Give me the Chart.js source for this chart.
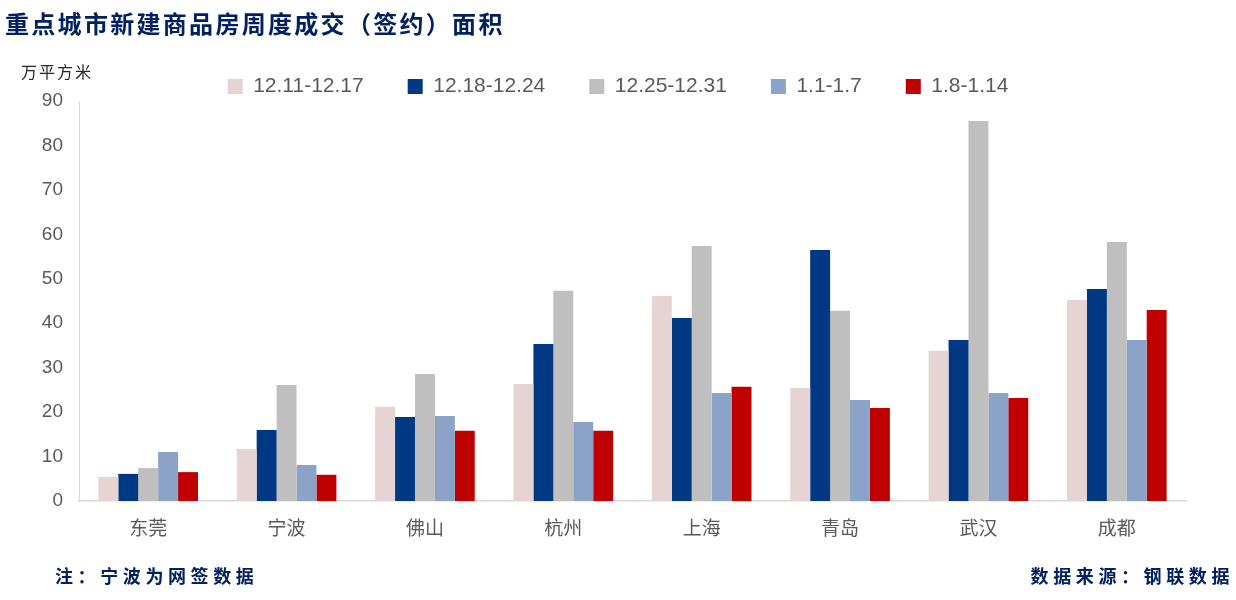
<!DOCTYPE html>
<html>
<head>
<meta charset="utf-8">
<script src="https://cdn.jsdelivr.net/npm/chart.js@4"></script>
<style>
  html, body { margin: 0; padding: 0; background: #fff; }
  #wrap { position: relative; width: 1236px; height: 600px; overflow: hidden; }
  #chart { position: absolute; left: 0; top: 0; }
  .note {
    position: absolute;
    font-family: "Noto Sans CJK SC", sans-serif;
    font-weight: bold;
    color: #002060;
    line-height: 1;
    white-space: nowrap;
  }
  #title { left: 5px; top: 11px; font-size: 24px; letter-spacing: 2.3px; }
  #footLeft { left: 55px; top: 566px; font-size: 18px; letter-spacing: 4.6px; }
  #footRight { right: 2px; top: 566px; font-size: 18px; letter-spacing: 4.6px; }
</style>
</head>
<body>
<div id="wrap">
  <canvas id="chart" width="1236" height="600"></canvas>
  <div id="title" class="note">重点城市新建商品房周度成交（签约）面积</div>
  <div id="footLeft" class="note">注：宁波为网签数据</div>
  <div id="footRight" class="note">数据来源：钢联数据</div>
</div>
<script>
const cities = ["东莞", "宁波", "佛山", "杭州", "上海", "青岛", "武汉", "成都"];
const weekLabels = ["12.11-12.17", "12.18-12.24", "12.25-12.31", "1.1-1.7", "1.8-1.14"];
const week1211 = [5.4, 11.7, 21.2, 26.3, 46.1, 25.4, 33.8, 45.2];
const week1218 = [6.1, 16.0, 18.9, 35.3, 41.2, 56.5, 36.2, 47.7];
const week1225 = [7.4, 26.1, 28.6, 47.3, 57.4, 42.8, 85.5, 58.3];
const week0101 = [11.0, 8.1, 19.1, 17.8, 24.3, 22.7, 24.3, 36.2];
const week0108 = [6.5, 5.9, 15.8, 15.8, 25.7, 20.9, 23.2, 43.0];
const yTicks = [0, 10, 20, 30, 40, 50, 60, 70, 80, 90];
const unitLabel = "万平方米";

const colors = ["#E6D3D3", "#003884", "#BFBFBF", "#8AA3C6", "#C00000"];
const seriesValues = [week1211, week1218, week1225, week0101, week0108];

// unit text above the y axis
const unitPlugin = {
  id: "unitLabel",
  afterDraw(chart) {
    const ctx = chart.ctx;
    ctx.save();
    ctx.font = '16px "Noto Sans CJK SC"';
    ctx.letterSpacing = "2px";
    ctx.fillStyle = "#262626";
    ctx.textAlign = "left";
    ctx.textBaseline = "middle";
    ctx.fillText(unitLabel, 21, 72);
    ctx.restore();
  }
};

const ctx = document.getElementById("chart").getContext("2d");
new Chart(ctx, {
  type: "bar",
  data: {
    labels: cities,
    datasets: weekLabels.map((w, i) => ({
      label: w,
      data: seriesValues[i],
      backgroundColor: colors[i],
      borderWidth: 0,
      categoryPercentage: 0.72,
      barPercentage: 1.0
    }))
  },
  options: {
    responsive: false,
    animation: false,
    layout: { padding: { top: 32, left: 0, right: 0, bottom: 59 } },
    plugins: {
      tooltip: { enabled: false },
      legend: {
        position: "top",
        maxHeight: 69,
        labels: {
          boxWidth: 15,
          boxHeight: 15,
          padding: 44,
          color: "#595959",
          font: { family: "Liberation Sans", size: 21 }
        }
      }
    },
    scales: {
      x: {
        grid: { display: false, drawTicks: false },
        border: { display: true, color: "#D9D9D9", width: 1.5 },
        ticks: {
          color: "#595959",
          padding: 15,
          font: { family: "Noto Sans CJK SC", size: 19 }
        },
        afterFit(scale) { scale.height = 40; }
      },
      y: {
        min: 0,
        max: 90,
        grid: { display: false, drawTicks: false },
        border: { display: true, color: "#D9D9D9", width: 1 },
        afterBuildTicks(scale) { scale.ticks = yTicks.map(v => ({ value: v })); },
        ticks: {
          color: "#595959",
          padding: 16,
          font: { family: "Liberation Sans", size: 19 }
        },
        afterFit(scale) { scale.width = 79; }
      },
      // empty right margin so the plot ends where the reference does
      yRight: {
        position: "right",
        grid: { display: false, drawTicks: false },
        border: { display: false },
        ticks: { display: false },
        afterFit(scale) { scale.width = 50; }
      }
    }
  },
  plugins: [unitPlugin]
});
</script>
</body>
</html>
